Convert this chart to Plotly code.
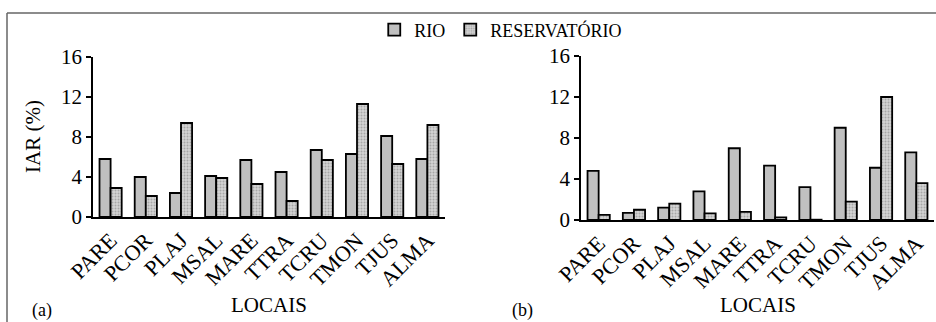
import plotly.graph_objects as go

locais = ["PARE", "PCOR", "PLAJ", "MSAL", "MARE", "TTRA", "TCRU", "TMON", "TJUS", "ALMA"]
rio_a = [5.8, 4.0, 2.4, 4.1, 5.7, 4.5, 6.7, 6.3, 8.1, 5.8]
res_a = [2.9, 2.1, 9.4, 3.9, 3.3, 1.6, 5.7, 11.3, 5.3, 9.2]
rio_b = [4.8, 0.7, 1.2, 2.8, 7.0, 5.3, 3.2, 9.0, 5.1, 6.6]
res_b = [0.5, 1.0, 1.6, 0.65, 0.8, 0.25, 0.03, 1.8, 12.0, 3.6]
y_ticks = [0, 4, 8, 12, 16]

W, H = 936, 322
FONT = "Liberation Serif"

def px(x):
    return x / W

def py(y):
    return 1 - y / H

rio_style = dict(color="#c0c0c0", line=dict(color="black", width=1.8))
res_style = dict(color="#c8c8c8", line=dict(color="black", width=1.8),
                 pattern=dict(shape=".", fgcolor="#7a7a7a", bgcolor="#d4d4d4", size=3, solidity=0.35))

fig = go.Figure()
fig.add_trace(go.Bar(x=locais, y=rio_a, name="RIO", marker=rio_style, xaxis="x", yaxis="y", legendgroup="rio"))
fig.add_trace(go.Bar(x=locais, y=res_a, name="RESERVATÓRIO", marker=res_style, xaxis="x", yaxis="y", legendgroup="res"))
fig.add_trace(go.Bar(x=locais, y=rio_b, name="RIO", marker=rio_style, xaxis="x2", yaxis="y2", showlegend=False, legendgroup="rio"))
fig.add_trace(go.Bar(x=locais, y=res_b, name="RESERVATÓRIO", marker=res_style, xaxis="x2", yaxis="y2", showlegend=False, legendgroup="res"))

xax = dict(type="category", showline=True, linecolor="black", linewidth=1.5, ticks="",
           tickangle=-45, tickfont=dict(family=FONT, size=22, color="black"), automargin=False,
           showgrid=False, zeroline=False)
yax = dict(range=[0, 16], tickvals=y_ticks, showline=True, linecolor="black", linewidth=1.5,
           ticks="outside", ticklen=5, tickcolor="black", tickwidth=1.5,
           tickfont=dict(family=FONT, size=21, color="black"), showgrid=False, zeroline=False, automargin=False)

fig.update_layout(
    width=W, height=H, margin=dict(l=0, r=0, t=0, b=0),
    paper_bgcolor="white", plot_bgcolor="white",
    barmode="group", bargap=0.37, bargroupgap=0,
    xaxis=dict(xax, domain=[px(93), px(445)], anchor="y"),
    yaxis=dict(yax, domain=[py(217), py(57)], anchor="x"),
    xaxis2=dict(xax, domain=[px(581), px(934)], anchor="y2"),
    yaxis2=dict(yax, domain=[py(220), py(56)], anchor="x2"),
    legend=dict(orientation="h", x=0.535, xanchor="center", y=py(30), yanchor="middle",
                font=dict(family=FONT, size=18, color="black"), itemwidth=30,
                bgcolor="rgba(0,0,0,0)", tracegroupgap=0),
    font=dict(family=FONT, color="black"),
)

annos = [
    dict(text="LOCAIS", x=px(269), y=py(305), font=dict(size=21)),
    dict(text="LOCAIS", x=px(758), y=py(305), font=dict(size=21)),
    dict(text="(a)", x=px(42), y=py(310), font=dict(size=18)),
    dict(text="(b)", x=px(522), y=py(310), font=dict(size=18)),
    dict(text="IAR (%)", x=px(33), y=py(137), textangle=-90, font=dict(size=21)),
]
for a in annos:
    fig.add_annotation(xref="paper", yref="paper", showarrow=False, xanchor="center", yanchor="middle",
                       text=a["text"], x=a["x"], y=a["y"], textangle=a.get("textangle", 0),
                       font=dict(family=FONT, color="black", size=a["font"]["size"]))

fig.add_shape(type="line", xref="paper", yref="paper", x0=px(7), x1=1, y0=py(13), y1=py(13),
              line=dict(color="#666666", width=1.5))
fig.add_shape(type="line", xref="paper", yref="paper", x0=px(7), x1=px(7), y0=py(13), y1=0,
              line=dict(color="#666666", width=1.5))

fig.write_html("out.html")
